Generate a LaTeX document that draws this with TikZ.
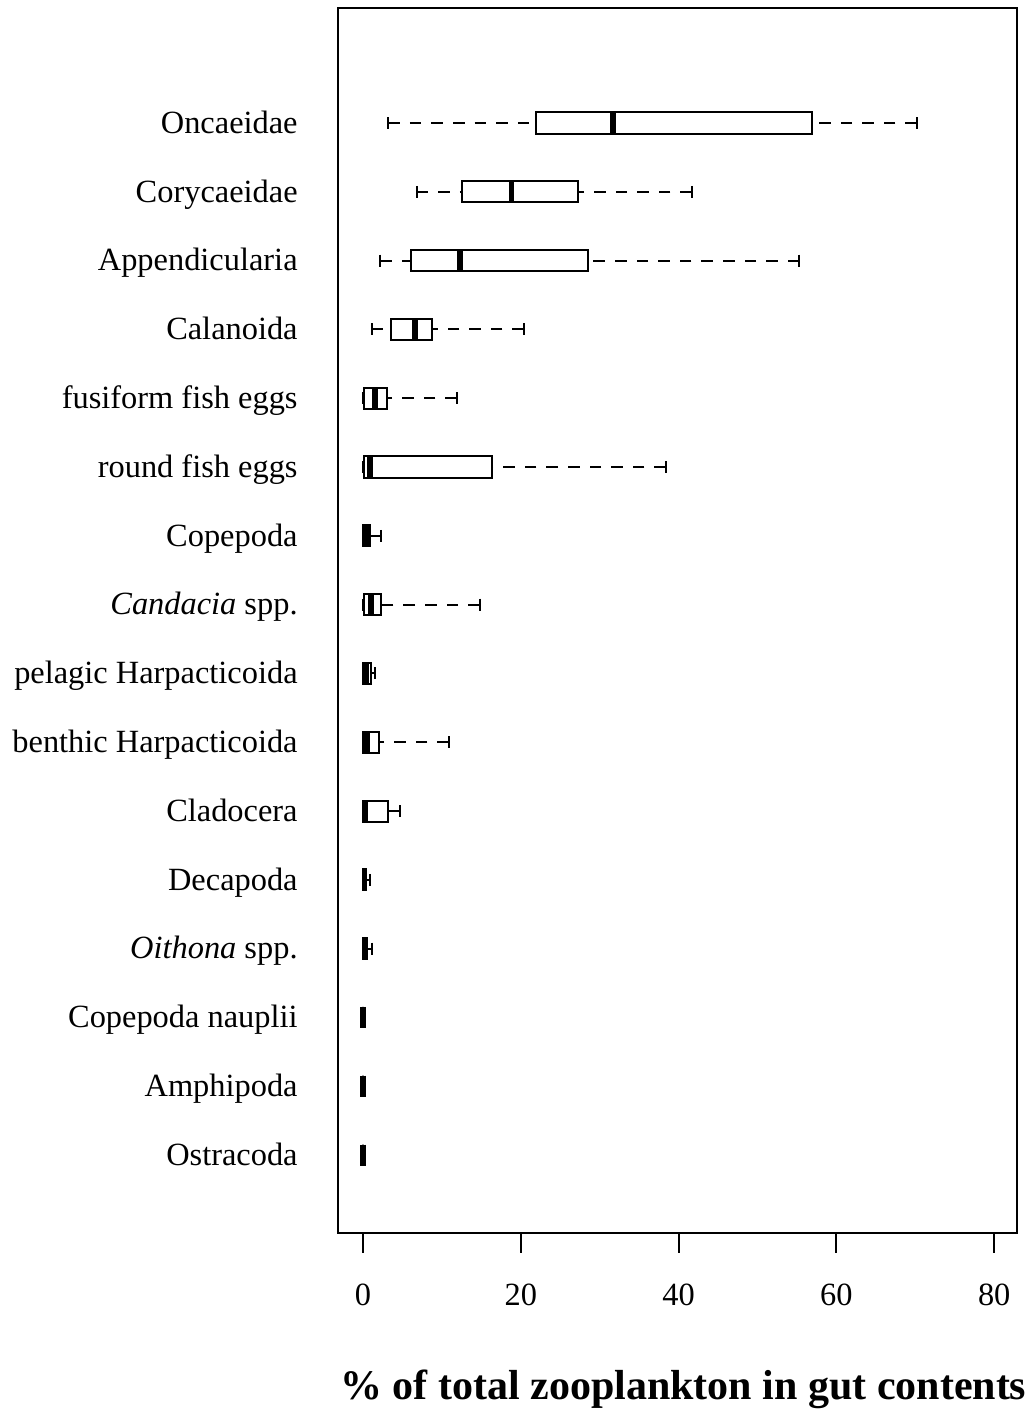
\documentclass[tikz,border=0pt]{standalone}
\usepackage{fontspec}
\setmainfont{Liberation Serif}
\usetikzlibrary{arrows.meta}

\tikzset{
  frame/.style={line width=1pt},
  whisk/.style={line width=1pt,dash pattern=on 5.8pt off 5pt},
  whiskcap/.style={line width=1pt},
  iqrbox/.style={draw,line width=1pt,fill=white},
  medline/.style={line width=2.8pt},
  lab/.style={font=\fontsize{16.2}{19}\selectfont}
}

\begin{document}
\begin{tikzpicture}[x=3.945pt,y=-34.4pt,>=Latex]
  \useasboundingbox (-46.01,-0.788) rectangle (85.04,19.735);
  \draw[frame] (-3.17,-0.672) rectangle (82.89,17.134);
  % one row per prey group: whisker ends, quartiles, median
  \foreach \row/\name/\wl/\qa/\med/\qb/\wh in {
      1/Oncaeidae/3.2/21.9/31.7/56.9/70.2,
      2/Corycaeidae/6.8/12.5/18.8/27.2/41.7,
      3/Appendicularia/2.2/6.1/12.3/28.5/55.3,
      4/Calanoida/1.1/3.5/6.6/8.7/20.4,
      5/fusiform fish eggs/0/0.15/1.5/3.0/11.9,
      6/round fish eggs/0/0.15/0.9/16.3/38.4,
      7/Copepoda/0/0/0.4/0.9/2.3,
      8/{\textit{Candacia} spp.}/0/0.15/1.0/2.3/14.8,
      9/pelagic Harpacticoida/0/0/0.4/1.0/1.5,
      10/benthic Harpacticoida/0/0/0.5/2.0/10.9,
      11/Cladocera/0/0/0.3/3.2/4.7,
      12/Decapoda/0/0/0.2/0.4/0.9,
      13/{\textit{Oithona} spp.}/0/0/0.2/0.5/1.2,
      14/Copepoda nauplii/0/0/0/0/0,
      15/Amphipoda/0/0/0/0/0,
      16/Ostracoda/0/0/0/0/0}{
    \draw[whisk] (\wl,\row) -- (\qa,\row);
    \draw[whisk] (\wh,\row) -- (\qb,\row);
    \draw[whiskcap] (\wl,\row-0.087) -- (\wl,\row+0.087);
    \draw[whiskcap] (\wh,\row-0.087) -- (\wh,\row+0.087);
    \draw[iqrbox] (\qa,\row-0.153) rectangle (\qb,\row+0.153);
    \draw[medline] (\med,\row-0.153) -- (\med,\row+0.153);
    \node[lab,anchor=base east,inner sep=0pt] (lab-\row) at (-8.24,\row+0.15) {\name};
  }
  % x axis
  \foreach \x in {0,20,40,60,80}{
    \draw[frame] (\x,17.134) -- (\x,17.425);
    \node[lab,anchor=base,inner sep=0pt] (tick-\x) at (\x,18.18) {\x};
  }
  \node[font=\bfseries\fontsize{21}{25}\selectfont,anchor=base,inner sep=0pt] (xlabel) at (40.6,19.56) {\% of total zooplankton in gut contents};
\end{tikzpicture}
\end{document}
